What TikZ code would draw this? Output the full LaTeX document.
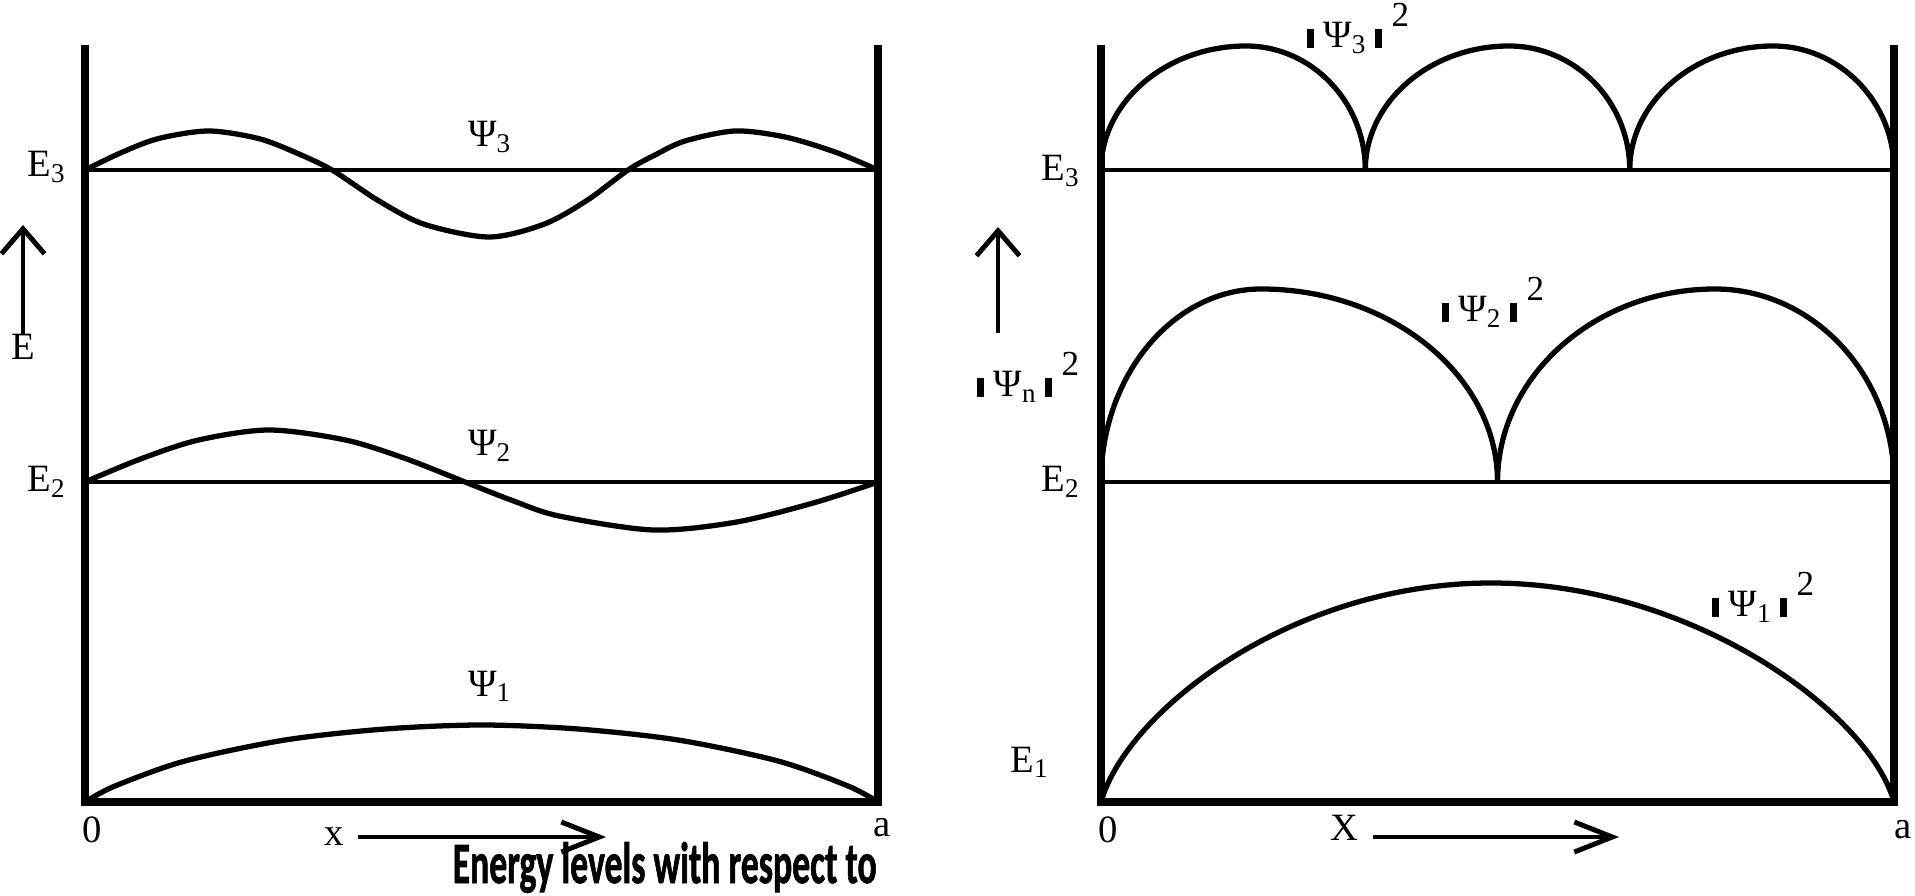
\documentclass[tikz,border=0pt]{standalone}
\usepackage{fontspec}
\setmainfont{Liberation Serif}
\newfontfamily\capfont{Carlito}[BoldFeatures={FakeBold=1.5}]
\usepackage{tikz}
\usetikzlibrary{arrows.meta}

\tikzset{
  wall/.style={line width=2.1pt, line join=miter},
  level/.style={line width=1.3pt},
  wave/.style={line width=1.5pt, line join=round},
  lbl/.style={font=\fontsize{11}{13}\selectfont, inner sep=0pt},
  vaxis/.style={line width=1.4pt, -{Straight Barb[length=0.25cm,width=0.43cm]}},
  haxis/.style={line width=1.4pt, -{Straight Barb[length=0.38cm,width=0.3cm]}}
}
\newcommand{\vbar}{\rule{2pt}{0.5em}}
\newcommand{\psisq}[1]{\vbar\hspace{0.25em}Ψ\textsubscript{#1}\hspace{0.2em}\vbar\hspace{0.25em}\raisebox{0.55em}{\fontsize{10}{10}\selectfont 2}}

\begin{document}
\begin{tikzpicture}
	\useasboundingbox (-0.85,-0.93) rectangle (18.30,8.02);
	
	% Left well: wave functions
	\draw[wall] (0,7.57) -- (0,0) -- (7.93,0) -- (7.93,7.57);
	\foreach \y in {6.32,3.20} {
		\draw[level] (0,\y) -- (7.93,\y);
	}
	\draw[wave] plot[smooth, tension=0.5] coordinates {(0,6.32) (0.37,6.497) (0.74,6.636) (1.235,6.71) (1.73,6.636) (2.10,6.497) (2.47,6.32)
		(2.93,6.016) (3.39,5.778) (4.04,5.65) (4.59,5.778) (5.02,6.016) (5.43,6.32)
		(5.70,6.47) (6.0,6.61) (6.5,6.71) (7.0,6.65) (7.5,6.50) (7.93,6.32)};
	\draw[wave] plot[smooth, tension=0.5] coordinates {(0,3.20) (0.57,3.436) (1.14,3.621) (1.84,3.72) (2.60,3.621) (3.20,3.436) (3.80,3.20)
		(4.27,3.016) (4.74,2.86) (5.68,2.72) (6.5,2.797) (7.3,2.995) (7.93,3.20)};
	\draw[wave] plot[smooth] coordinates {(0,0) (0.3,0.16) (1,0.41) (2,0.62) (3,0.73) (3.965,0.77) (4.93,0.73) (5.93,0.62) (6.93,0.41) (7.63,0.16) (7.93,0)};
	
	\node[lbl, anchor=base] (psi3) at (4.05,6.55) {Ψ\textsubscript{3}};
	\node[lbl, anchor=base] (psi2) at (4.05,3.46) {Ψ\textsubscript{2}};
	\node[lbl, anchor=base] (psi1) at (4.05,1.06) {Ψ\textsubscript{1}};
	
	\foreach \n/\y in {3/6.25, 2/3.10} {
		\node[lbl, anchor=base east] (lE\n) at (-0.18,\y) {E\textsubscript{\n}};
	}
	\node[lbl, anchor=base] (lE) at (-0.62,4.42) {E};
	\coordinate (lEtip) at (-0.62,5.77);
	\draw[vaxis] (lE.north) -- (lEtip);
	
	\node[lbl, anchor=base] (lzero) at (0.07,-0.40) {0};
	\node[lbl, anchor=base] (la) at (7.97,-0.34) {a};
	\node[lbl, anchor=base] (lx) at (2.49,-0.43) {x};
	\coordinate (lxend) at (5.21,-0.35);
	\draw[haxis] ([xshift=4pt]lx.east |- lxend) -- (lxend);
	
	% Right well: probability densities
	\begin{scope}[xshift=10.16cm]
		\draw[wall] (0,7.57) -- (0,0) -- (7.93,0) -- (7.93,7.57);
		\foreach \y in {6.32,3.20} {
			\draw[level] (0,\y) -- (7.93,\y);
		}
		\foreach \a/\p/\b in {0/1.45/2.643, 2.643/4.08/5.287, 5.287/6.72/7.93} {
			\draw[wave] (\a,6.32) .. controls +(0,0.68) and +({-0.55*(\p-\a)},0) .. (\p,7.56)
			            .. controls +({0.55*(\b-\p)},0) and +(0,0.68) .. (\b,6.32);
		}
		\foreach \a/\p/\b in {0/1.6/3.965, 3.965/6.14/7.93} {
			\draw[wave] (\a,3.20) .. controls +(0,1.06) and +({-0.55*(\p-\a)},0) .. (\p,5.13)
			            .. controls +({0.55*(\b-\p)},0) and +(0,1.06) .. (\b,3.20);
		}
		\draw[wave] (0,0) .. controls +(0.25,0.9) and +(-2.0,0) .. (3.90,2.19)
		            .. controls +(2.0,0) and +(-0.25,0.9) .. (7.93,0);
		
		\node[lbl, anchor=base] (rpsi3) at (2.57,7.54) {\psisq{3}};
		\node[lbl, anchor=base] (rpsi2) at (3.92,4.80) {\psisq{2}};
		\node[lbl, anchor=base] (rpsi1) at (6.62,1.85) {\psisq{1}};
		
		\node[lbl, anchor=base east] (rE3) at (-0.20,6.21) {E\textsubscript{3}};
		\node[lbl, anchor=base east] (rE2) at (-0.20,3.10) {E\textsubscript{2}};
		\node[lbl, anchor=base east] (rE1) at (-0.51,0.30) {E\textsubscript{1}};
		\node[lbl, anchor=base east] (rpsin) at (-0.21,4.05) {\psisq{n}};
		\coordinate (rbot) at (-1.03,4.69);
		\coordinate (rtip) at (-1.03,5.75);
		\draw[vaxis] (rbot) -- (rtip);
		
		\node[lbl, anchor=base] (rzero) at (0.07,-0.40) {0};
		\node[lbl, anchor=base] (ra) at (8.02,-0.36) {a};
		\node[lbl, anchor=base] (rx) at (2.43,-0.38) {X};
		\coordinate (rxend) at (5.18,-0.35);
		\draw[haxis] ([xshift=4pt]rx.east |- rxend) -- (rxend);
	\end{scope}
	
	% Caption
	\node[anchor=base west, inner sep=0pt] (caption) at (3.67,-0.81) {\resizebox{4.24cm}{0.41cm}{\capfont\bfseries Energy levels with respect to}};
	
\end{tikzpicture}
\end{document}
